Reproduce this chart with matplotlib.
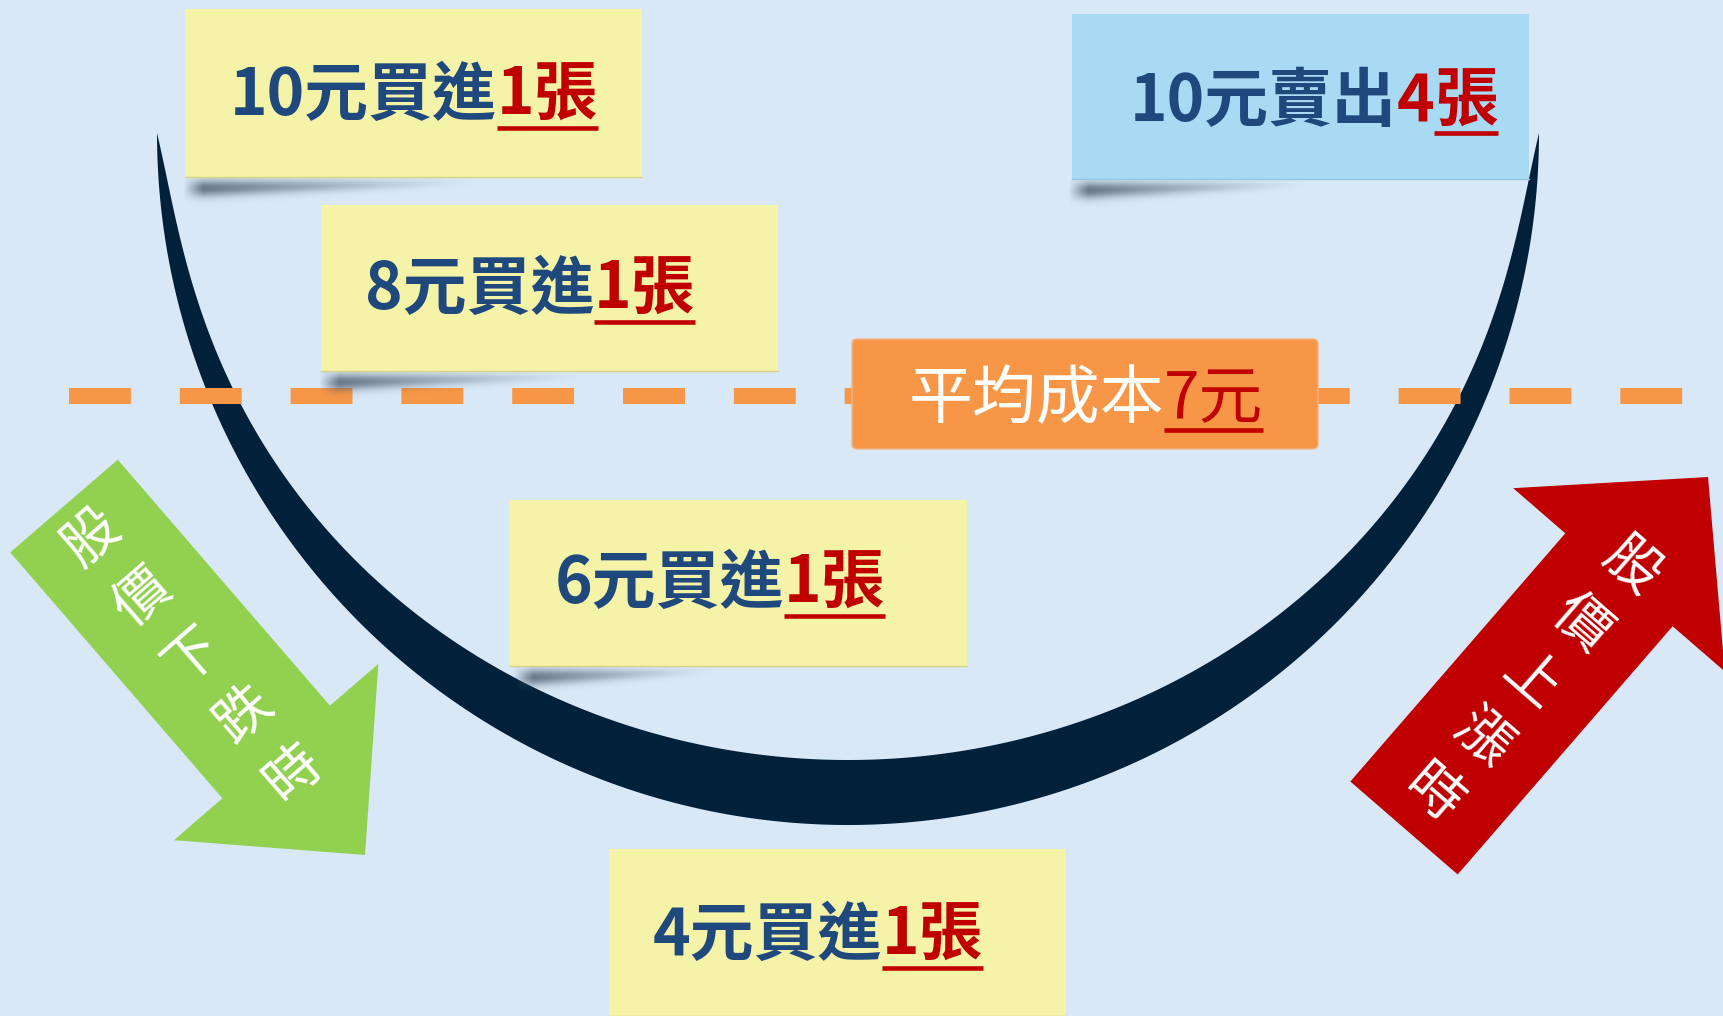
import numpy as np
import matplotlib
matplotlib.use('Agg')
import matplotlib.pyplot as plt
from matplotlib.patches import Polygon, Rectangle, FancyBboxPatch

plt.rcParams['font.family'] = ['Noto Sans CJK TC', 'DejaVu Sans']

# ---- datos del esquema ----
precios_compra = [10, 8, 6, 4]
lotes_compra = [1, 1, 1, 1]
precio_venta = 10
lotes_venta = sum(lotes_compra)
costo_medio = int(np.dot(precios_compra, lotes_compra) / sum(lotes_compra))
texto_baja = "股價下跌時"
texto_sube = "股價上漲時"

# ---- disposición (pixeles) ----
W, H = 1723, 1016
notas_compra = [(185, 9, 642, 177), (321, 205, 778, 371),
                (509, 500, 967, 666), (609, 849, 1066, 1016)]
centros_texto = [414, 530, 720, 818]
base_texto = [115, 309, 603, 955]
nota_venta = (1072, 14, 1529, 179)
sombras = [(195, 480, 177), (331, 585, 371), (525, 715, 666), (1080, 1310, 179)]

FONDO = '#d9e8f7'
AMARILLO = '#f5f3a8'
CELESTE = '#a9daf3'
NARANJA = '#f79646'
AZUL = '#1f497d'
ROJO = '#c00000'
VERDE = '#92d050'
ARCO = '#012039'

fig = plt.figure(figsize=(W / 100, H / 100), dpi=100)
fig.patch.set_facecolor(FONDO)
ax = fig.add_axes([0, 0, 1, 1])
ax.set_facecolor(FONDO)
ax.axis('off')
renderer = fig.canvas.get_renderer()


def texto_partes(cx, y_base, partes, fs, peso, y_sub):
    objs = []
    for s, col, sub in partes:
        t = ax.text(0, y_base, s, color=col, fontsize=fs, fontweight=peso,
                    ha='left', va='baseline', zorder=7)
        objs.append((t, col, sub))
    anchos = [t.get_window_extent(renderer).width for t, _, _ in objs]
    x = cx - sum(anchos) / 2
    for (t, col, sub), w in zip(objs, anchos):
        t.set_x(x)
        if sub:
            ax.plot([x, x + w], [y_sub, y_sub], color=col, lw=3.3,
                    solid_capstyle='butt', zorder=7)
        x += w


def sombra(x0, x1, y0):
    xs = np.arange(x0 - 12, x1)
    ys = np.arange(y0 - 4, y0 + 36)
    X, Y = np.meshgrid(xs, ys)
    u = np.clip((X - x0) / (x1 - x0), 0, 1)
    yc = y0 + 11 - 6 * u
    sig = 8.5 - 5 * u
    a = 0.8 * np.exp(-((Y - yc) / sig) ** 2) * (1 - u) ** 1.3
    a *= np.clip((X - x0 + 12) / 20, 0, 1)
    img = np.zeros(X.shape + (4,))
    img[..., 0], img[..., 1], img[..., 2] = 0.28, 0.34, 0.41
    img[..., 3] = a
    ax.imshow(img, extent=(xs[0], xs[-1] + 1, ys[-1] + 1, ys[0]),
              zorder=3, interpolation='bilinear', aspect='auto')


def flecha(cola, punta, ancho, ancho_cab, largo_cab, color):
    cola, punta = np.array(cola, float), np.array(punta, float)
    d = (punta - cola) / np.linalg.norm(punta - cola)
    n = np.array([-d[1], d[0]])
    base = punta - d * largo_cab
    pts = [cola + n * ancho / 2, base + n * ancho / 2, base + n * ancho_cab / 2,
           punta, base - n * ancho_cab / 2, base - n * ancho / 2, cola - n * ancho / 2]
    ax.add_patch(Polygon(pts, closed=True, fc=color, ec='none', zorder=2))
    return d


# arco (media luna)
cx, cy, ao, bo, bi = 848, 133, 691, 692, 627
t = np.linspace(0, np.pi, 600)
ai = ao - 18 * (1 - np.exp(-np.sin(t) / 0.12))
ext = np.column_stack([cx - ao * np.cos(t), cy + bo * np.sin(t)])
inn = np.column_stack([cx - ai * np.cos(t), cy + bi * np.sin(t)])[::-1]
ax.add_patch(Polygon(np.vstack([ext, inn]), closed=True, fc=ARCO, ec='none', zorder=1))

# linea del costo medio
ax.plot([69, 1686], [396, 396], color=NARANJA, lw=11.5,
        linestyle=(0, (62 / 16, 49 / 16)), dash_capstyle='butt', zorder=2)

# flechas
d = flecha((64, 506), (365, 855), 142, 270, 136, VERDE)
p0 = np.array([92, 539])
for i, ch in enumerate(texto_baja):
    p = p0 + d * 77.3 * i
    ax.text(p[0], p[1], ch, color='white', fontsize=40, rotation=41,
            rotation_mode='anchor', ha='center', va='center', zorder=3)

d = flecha((1404, 828), (1708, 477), 142, 280, 136, ROJO)
p0 = np.array([1630, 567])
for i, ch in enumerate(texto_sube):
    p = p0 - d * 75.5 * i
    ax.text(p[0], p[1], ch, color='white', fontsize=40, rotation=-41,
            rotation_mode='anchor', ha='center', va='center', zorder=3)

# sombras de las notas
for x0, x1, y0 in sombras:
    sombra(x0, x1, y0)

# notas de compra
for (x0, y0, x1, y1), c, yb, p, n in zip(notas_compra, centros_texto, base_texto,
                                         precios_compra, lotes_compra):
    ax.add_patch(Rectangle((x0, y0), x1 - x0, y1 - y0, fc=AMARILLO, ec='none', zorder=4))
    ax.plot([x0, x1], [y1, y1], color='#d6d28a', lw=1, zorder=4)
    texto_partes(c, yb, [(f"{p}元買進", AZUL, False), (f"{n}張", ROJO, True)],
                 46, 'bold', yb + 12.5)

# nota de venta
x0, y0, x1, y1 = nota_venta
ax.add_patch(Rectangle((x0, y0), x1 - x0, y1 - y0, fc=CELESTE, ec='none', zorder=4))
ax.plot([x0, x1], [y1, y1], color='#93c6e2', lw=1, zorder=4)
texto_partes(1314, 121, [(f"{precio_venta}元賣出", AZUL, False),
                         (f"{lotes_venta}", ROJO, False), ("張", ROJO, True)],
             46, 'bold', 133)

# caja del costo medio
ax.add_patch(FancyBboxPatch((852, 339), 466, 110, boxstyle='round,pad=0,rounding_size=5',
                            fc=NARANJA, ec='#f3b487', lw=1, zorder=5))
texto_partes(1086, 418, [("平均成本", 'white', False), (f"{costo_medio}元", ROJO, True)],
             46, 'normal', 430)

ax.set_xlim(0, W)
ax.set_ylim(H, 0)
fig.savefig('out.png', dpi=100, facecolor=FONDO)
